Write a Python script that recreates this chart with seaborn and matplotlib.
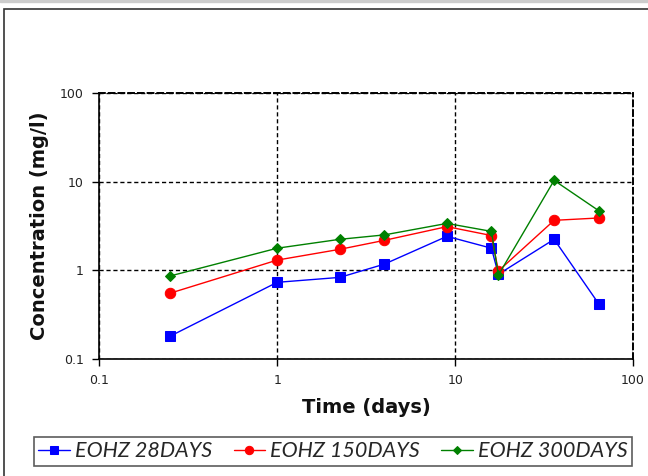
import matplotlib
matplotlib.use("Agg")
import matplotlib.pyplot as plt
from matplotlib.patches import Rectangle
import seaborn as sns
import pandas as pd

# Sampling times (days) and measured concentrations (mg/l)
days = [0.25, 1, 2.25, 4, 9, 16, 17.5, 36, 64]
eohz_28 = [0.18, 0.73, 0.83, 1.17, 2.41, 1.77, 0.90, 2.23, 0.42]
eohz_150 = [0.55, 1.30, 1.72, 2.17, 3.10, 2.46, 0.98, 3.65, 3.88]
eohz_300 = [0.86, 1.77, 2.23, 2.50, 3.37, 2.74, 0.88, 10.3, 4.70]
series_names = ["EOHZ 28DAYS", "EOHZ 150DAYS", "EOHZ 300DAYS"]
x_ticks = [0.1, 1, 10, 100]
y_ticks = [0.1, 1, 10, 100]

df = pd.concat([
    pd.DataFrame({"days": days, "conc": vals, "series": name})
    for name, vals in zip(series_names, [eohz_28, eohz_150, eohz_300])
])

sns.set_style("white")
fig = plt.figure(figsize=(6.48, 4.76), dpi=100)
ax = fig.add_axes([0.153, 0.246, 0.824, 0.559])

palette = {series_names[0]: "#0000ff", series_names[1]: "#ff0000", series_names[2]: "#008000"}
markers = {series_names[0]: "s", series_names[1]: "o", series_names[2]: "D"}
sizes = {series_names[0]: 7.5, series_names[1]: 7.5, series_names[2]: 5.5}
for name in series_names:
    sub = df[df["series"] == name]
    sns.lineplot(data=sub, x="days", y="conc", ax=ax, color=palette[name],
                 marker=markers[name], markersize=sizes[name],
                 markeredgecolor=palette[name], linewidth=1.0,
                 label=name, sort=False)

ax.set_xscale("log")
ax.set_yscale("log")
ax.set_xlim(0.1, 100)
ax.set_ylim(0.1, 100)
ax.set_xticks(x_ticks)
ax.set_xticklabels(["0.1", "1", "10", "100"])
ax.set_yticks(y_ticks)
ax.set_yticklabels(["0.1", "1", "10", "100"])
ax.minorticks_off()
ax.tick_params(axis="both", which="major", direction="out", length=5, width=1,
               color="black", labelsize=9, labelcolor="#222222", pad=6,
               bottom=True, left=True)
ax.grid(True, which="major", color="black", linestyle=(0, (3, 2)), linewidth=1.0)

for side in ["left", "bottom"]:
    ax.spines[side].set_color("black")
    ax.spines[side].set_linewidth(1.2)
for side in ["top", "right"]:
    ax.spines[side].set_color("black")
    ax.spines[side].set_linestyle((0, (3, 2)))
    ax.spines[side].set_linewidth(1.4)

ax.set_xlabel("Time (days)", fontsize=14, fontweight="bold", labelpad=8, color="#111111")
ax.set_ylabel("Concentration (mg/l)", fontsize=14, fontweight="bold", labelpad=8, color="#111111")

handles, labels = ax.get_legend_handles_labels()
if ax.legend_:
    ax.legend_.remove()
leg = fig.legend(handles, labels, loc="center", bbox_to_anchor=(0.514, 0.0515),
                 ncol=3, frameon=True, fancybox=False, edgecolor="#333333",
                 prop={"family": "Lato", "style": "italic", "size": 15.5},
                 handlelength=1.45, handletextpad=0.25, columnspacing=1.0,
                 borderpad=0.2, borderaxespad=0, markerscale=0.8)
leg.get_frame().set_linewidth(1.2)

# Outer chart frame
fig.patches.append(Rectangle((4 / 648, -0.02), 1.0, 1 - 9 / 476 + 0.02,
                             transform=fig.transFigure, fill=False,
                             edgecolor="#333333", linewidth=1.2))
fig.patches.append(Rectangle((0, 1 - 2 / 476), 1.0, 2 / 476,
                             transform=fig.transFigure, color="#cccccc"))

fig.savefig("out.png", dpi=100)
